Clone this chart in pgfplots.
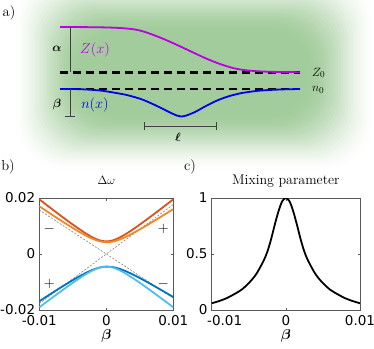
\documentclass[border=0pt]{standalone}
\usepackage{amsmath}
\usepackage{bm}
\usepackage{fontspec}
\setsansfont{DejaVu Sans}
\usepackage{pgfplots}
\usepackage{pgfplotstable}
\pgfplotsset{compat=1.18}

\definecolor{glowgreen}{RGB}{163,204,156}
\definecolor{zcol}{RGB}{188,0,225}
\definecolor{ncol}{RGB}{0,0,235}
\definecolor{dorange}{RGB}{217,83,25}
\definecolor{lorange}{RGB}{243,135,40}
\definecolor{dblue}{RGB}{0,114,189}
\definecolor{lblue}{RGB}{77,190,238}

% panel a, in pixel units (y down)
\pgfplotstableread{
x y
60 27
80 27.1
100 27.3
120 28
135 29.5
145 32
160 37.5
175 44
190 51
205 58
220 64
235 68.5
250 70.7
270 71.8
300 72.2
}\zline

\pgfplotstableread{
x y
60 89
80 89.2
100 90.5
115 92.8
128 95.3
143 99.8
158 106.5
170 112.5
177 115.6
181 116.5
186 115.6
195 112
205 106.5
216 101
228 96.5
242 93
260 90.6
280 89.5
300 89
}\nline

% panel b
\pgfplotstableread{
b do lo db lb
-0.010 0.019526 0.017042 -0.016882 -0.019039
-0.009 0.017682 0.015450 -0.015326 -0.017247
-0.008 0.015852 0.013871 -0.013785 -0.015469
-0.007 0.014041 0.012312 -0.012266 -0.013710
-0.006 0.012256 0.010779 -0.010777 -0.011977
-0.005 0.010512 0.009285 -0.009333 -0.010287
-0.004 0.008832 0.007855 -0.007958 -0.008661
-0.003 0.007262 0.006528 -0.006694 -0.007145
-0.002 0.005890 0.005380 -0.005613 -0.005826
-0.001 0.004885 0.004544 -0.004834 -0.004865
0 0.004500 0.004200 -0.004500 -0.004500
0.001 0.004885 0.004444 -0.004684 -0.004865
0.002 0.005890 0.005180 -0.005313 -0.005826
0.003 0.007262 0.006228 -0.006244 -0.007145
0.004 0.008832 0.007455 -0.007358 -0.008661
0.005 0.010512 0.008785 -0.008583 -0.010287
0.006 0.012256 0.010179 -0.009877 -0.011977
0.007 0.014041 0.011612 -0.011216 -0.013710
0.008 0.015852 0.013071 -0.012585 -0.015469
0.009 0.017682 0.014550 -0.013976 -0.017247
0.010 0.019526 0.016042 -0.015382 -0.019039
}\splitting

% panel c
\pgfplotstableread{
b m
-0.0100 0.060
-0.0090 0.080
-0.0080 0.105
-0.0070 0.140
-0.0060 0.180
-0.0050 0.240
-0.0040 0.320
-0.0030 0.440
-0.0025 0.520
-0.0020 0.630
-0.0015 0.760
-0.0010 0.880
-0.0005 0.970
0 1.000
0.0005 0.970
0.0010 0.880
0.0015 0.760
0.0020 0.630
0.0025 0.520
0.0030 0.440
0.0040 0.320
0.0050 0.240
0.0060 0.180
0.0070 0.140
0.0080 0.105
0.0090 0.080
0.0100 0.060
}\mixing

\pgfplotsset{
  panel/.style={
    anchor=south west, scale only axis, height=112pt, clip mode=individual,
    xmin=-0.01, xmax=0.01,
    xtick={-0.01,0,0.01},
    scaled ticks=false, tick align=inside, major tick length=2.5pt,
    axis line style={black!65, line width=0.7pt},
    tick style={black!65, line width=0.6pt},
    xticklabel style={font=\sffamily\fontsize{13.5}{14}\selectfont, anchor=north, inner sep=0pt, yshift=-5pt},
    yticklabel style={font=\sffamily\fontsize{13.5}{14}\selectfont, anchor=east, inner sep=0pt, xshift=-4pt},
  },
}

\begin{document}
\begin{tikzpicture}[x=1pt,y=1pt]
% soft green glow behind panel a: stacked layers, smoothstep coverage
\foreach \i in {1,...,28}{
  \pgfmathsetmacro{\ga}{\i/28}
  \pgfmathsetmacro{\gb}{(\i-1)/28}
  \pgfmathsetmacro{\ca}{3*\ga*\ga-2*\ga*\ga*\ga}
  \pgfmathsetmacro{\cb}{3*\gb*\gb-2*\gb*\gb*\gb}
  \pgfmathsetmacro{\op}{(\ca-\cb)/(1-\cb)}
  \pgfmathsetmacro{\gw}{(\i-0.5)/28}
  \pgfmathsetmacro{\xa}{12+68*\gw}
  \pgfmathsetmacro{\xb}{376-68*\gw}
  \pgfmathsetmacro{\ya}{348-(172-58*\gw)}
  \pgfmathsetmacro{\yb}{348-(-30+62*\gw)}
  \fill[glowgreen, fill opacity=\op, rounded corners=45pt] (\xa,\ya) rectangle (\xb,\yb);
}

\begin{axis}[at={(0pt,0pt)}, anchor=south west, width=374pt, height=348pt, scale only axis,
  xmin=0, xmax=374, ymin=0, ymax=348, y dir=reverse, hide axis, clip=false]
  \addplot[black, line width=2.2pt, dash pattern=on 7.5pt off 5.5pt] coordinates {(60,72.5) (300,72.5)};
  \addplot[black, line width=2.2pt, dash pattern=on 7.5pt off 5.5pt] coordinates {(60,89) (300,89)};
  \addplot[zcol, line width=1.8pt, smooth] table[x=x, y=y] {\zline};
  \addplot[ncol, line width=1.8pt, smooth] table[x=x, y=y] {\nline};
  % scale bars
  \draw[black!75, line width=0.9pt] (axis cs:70,27) -- (axis cs:70,72.5);
  \draw[black!75, line width=0.9pt] (axis cs:70,89) -- (axis cs:70,116.5) (axis cs:65,116.5) -- (axis cs:75,116.5);
  \draw[black!75, line width=0.9pt] (axis cs:144.5,126) -- (axis cs:216.5,126)
     (axis cs:144.5,122) -- (axis cs:144.5,130) (axis cs:216.5,122) -- (axis cs:216.5,130);
  \node[font=\fontsize{13}{15}\selectfont] at (axis cs:57,49) {$\bm{\alpha}$};
  \node[font=\fontsize{13}{15}\selectfont] at (axis cs:57,104) {$\bm{\beta}$};
  \node[font=\fontsize{13}{15}\selectfont] at (axis cs:178,137) {$\bm{\ell}$};
  \node[font=\fontsize{13.5}{15}\selectfont, text=zcol] at (axis cs:95,50) {$Z(x)$};
  \node[font=\fontsize{13.5}{15}\selectfont, text=ncol] at (axis cs:95,105) {$n(x)$};
  \node[font=\fontsize{12.5}{15}\selectfont, anchor=west, inner sep=0pt] at (axis cs:312,73) {$Z_0$};
  \node[font=\fontsize{12.5}{15}\selectfont, anchor=west, inner sep=0pt] at (axis cs:312,90) {$n_0$};
  \node[font=\fontsize{14.5}{16}\selectfont] at (axis cs:9,12.5) {a)};
  \node[font=\fontsize{14.5}{16}\selectfont] at (axis cs:8,167) {b)};
  \node[font=\fontsize{14.5}{16}\selectfont] at (axis cs:190,167) {c)};
\end{axis}

\begin{axis}[panel, at={(39.3pt,38pt)}, width=134pt,
  xticklabels={-0.01,0,0.01},
  ymin=-0.02, ymax=0.02, ytick={-0.02,0,0.02}, yticklabels={-0.02,0,0.02}]
  \addplot[gray, line width=0.6pt, dash pattern=on 2pt off 1.5pt] coordinates {(-0.01,0.0157) (0.01,-0.0157)};
  \addplot[gray, line width=0.6pt, dash pattern=on 2pt off 1.5pt] coordinates {(-0.01,-0.0177) (0.01,0.0177)};
  \addplot[dorange, line width=1.8pt, smooth] table[x=b, y=do] {\splitting};
  \addplot[lorange, line width=1.8pt, smooth] table[x=b, y=lo] {\splitting};
  \addplot[dblue, line width=1.8pt, smooth] table[x=b, y=db] {\splitting};
  \addplot[lblue, line width=1.8pt, smooth] table[x=b, y=lb] {\splitting};
  \node[font=\fontsize{14}{15}\selectfont] at (axis cs:-0.0085,0.0088) {$-$};
  \node[font=\fontsize{14}{15}\selectfont] at (axis cs:0.0085,0.0088) {$+$};
  \node[font=\fontsize{14}{15}\selectfont] at (axis cs:-0.0085,-0.0105) {$+$};
  \node[font=\fontsize{14}{15}\selectfont] at (axis cs:0.0085,-0.0105) {$-$};
  \node[font=\fontsize{13}{15}\selectfont, anchor=base] at (axis description cs:0.5,1.118) {$\Delta\omega$};
  \node[font=\fontsize{14}{15}\selectfont, anchor=base, inner sep=1pt] at (axis description cs:0.5,-0.262) {$\bm{\beta}$};
\end{axis}

\begin{axis}[panel, at={(211.7pt,38pt)}, width=148.3pt,
  xticklabels={\hspace*{26pt}-0.01,0,0.01},
  ymin=0, ymax=1, ytick={0,0.5,1}, yticklabels={0,0.5,1}]
  \addplot[black, line width=1.8pt, smooth] table[x=b, y=m] {\mixing};
  \node[font=\fontsize{14}{15}\selectfont, anchor=base] at (axis description cs:0.5,1.118) {Mixing parameter};
  \node[font=\fontsize{14}{15}\selectfont, anchor=base, inner sep=1pt] at (axis description cs:0.5,-0.262) {$\bm{\beta}$};
\end{axis}
\pgfresetboundingbox
\path[use as bounding box] (0,0) rectangle (374,348);
\end{tikzpicture}
\end{document}
